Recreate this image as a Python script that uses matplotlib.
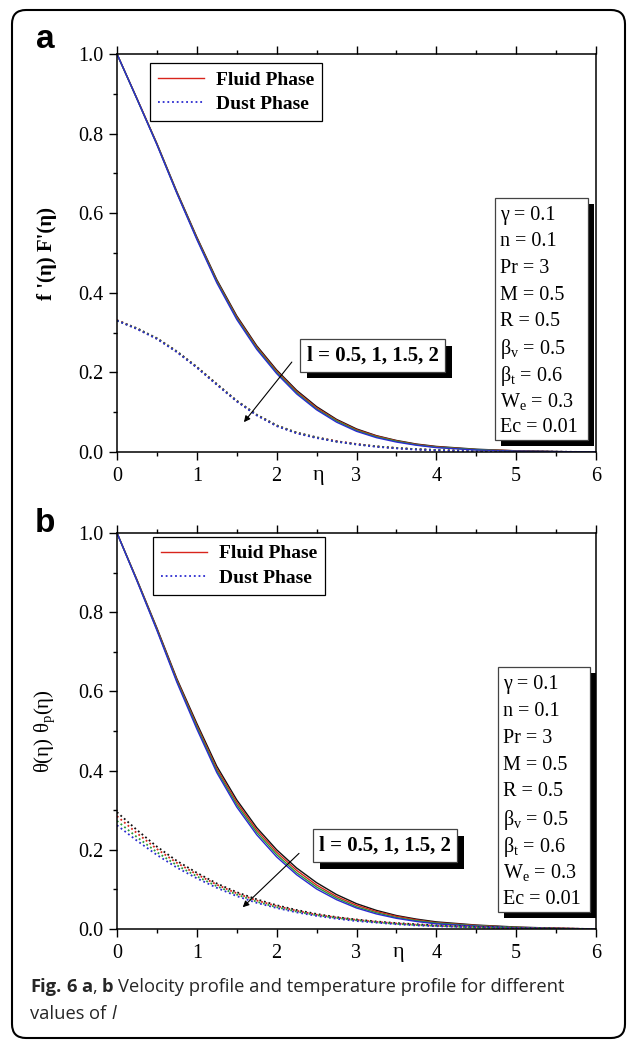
import numpy as np
import matplotlib.pyplot as plt
from matplotlib.lines import Line2D
from matplotlib.patches import FancyBboxPatch, Rectangle
from matplotlib.ticker import MultipleLocator
import matplotlib.patheffects as pe

plt.rcParams['font.family'] = 'Liberation Serif'
plt.rcParams['mathtext.fontset'] = 'custom'
plt.rcParams['mathtext.rm'] = 'Liberation Serif'
plt.rcParams['mathtext.it'] = 'Liberation Serif:italic'
plt.rcParams['mathtext.bf'] = 'Liberation Serif:bold'

# eta grid
eta = [0, 0.25, 0.5, 0.75, 1, 1.25, 1.5, 1.75, 2, 2.25, 2.5, 2.75, 3,
       3.25, 3.5, 3.75, 4, 4.5, 5, 5.5, 6]

l_values = ['0.5', '1', '1.5', '2']
colors = ['#111111', '#d8241c', '#2a9a36', '#2b2bd0']

# (a) velocity, fluid phase f'(eta) for l = 0.5, 1, 1.5, 2
vel_fluid_05 = [1, .888, .775, .654, .540, .433, .342, .267, .206, .155, .114, .082, .058, .041, .029, .020, .014, .007, .003, .001, 0]
vel_fluid_1 = [1, .888, .774, .652, .538, .430, .339, .264, .203, .152, .111, .080, .056, .040, .028, .019, .013, .006, .003, .001, 0]
vel_fluid_15 = [1, .887, .773, .651, .536, .428, .336, .261, .200, .149, .108, .078, .054, .038, .027, .018, .012, .006, .002, .001, 0]
vel_fluid_2 = [1, .887, .772, .650, .534, .425, .333, .258, .197, .146, .106, .075, .052, .036, .025, .017, .011, .005, .002, .001, 0]

# (a) velocity, dust phase F'(eta)
vel_dust_05 = [.331, .311, .286, .253, .214, .171, .129, .094, .067, .049, .037, .027, .020, .014, .010, .007, .005, .002, .001, .0005, 0]
vel_dust_1 = [.331, .310, .285, .252, .213, .170, .128, .093, .066, .048, .036, .027, .020, .014, .010, .007, .005, .002, .001, .0005, 0]
vel_dust_15 = [.330, .310, .285, .252, .213, .170, .128, .093, .066, .048, .036, .026, .019, .014, .010, .007, .005, .002, .001, .0005, 0]
vel_dust_2 = [.330, .309, .284, .251, .212, .169, .127, .092, .065, .047, .035, .026, .019, .013, .009, .006, .004, .002, .001, .0005, 0]

# (b) temperature, fluid phase theta(eta)
temp_fluid_05 = [1, .882, .760, .632, .519, .411, .326, .256, .200, .154, .117, .087, .064, .047, .034, .025, .018, .010, .005, .002, 0]
temp_fluid_1 = [1, .881, .758, .629, .514, .405, .320, .250, .194, .148, .111, .082, .060, .044, .032, .023, .016, .009, .004, .002, 0]
temp_fluid_15 = [1, .880, .756, .626, .510, .400, .314, .244, .188, .142, .106, .078, .056, .041, .029, .021, .015, .008, .004, .001, 0]
temp_fluid_2 = [1, .879, .754, .623, .505, .395, .308, .238, .182, .137, .101, .074, .053, .038, .027, .019, .013, .007, .003, .001, 0]

# (b) temperature, dust phase theta_p(eta)
temp_dust_05 = [.295, .250, .208, .172, .142, .115, .093, .075, .060, .048, .038, .030, .024, .019, .015, .012, .009, .005, .003, .001, 0]
temp_dust_1 = [.285, .242, .202, .167, .138, .112, .090, .072, .058, .046, .036, .029, .023, .018, .014, .011, .008, .005, .002, .001, 0]
temp_dust_15 = [.273, .232, .194, .161, .133, .108, .087, .069, .055, .044, .035, .028, .022, .017, .013, .010, .008, .004, .002, .001, 0]
temp_dust_2 = [.262, .223, .187, .155, .128, .104, .083, .066, .053, .042, .033, .026, .020, .016, .012, .009, .007, .004, .002, .001, 0]

params = ['γ = 0.1', 'n = 0.1', 'Pr = 3', 'M = 0.5', 'R = 0.5',
          r'β$_\mathregular{v}$ = 0.5', r'β$_\mathregular{t}$ = 0.6',
          r'W$_\mathregular{e}$ = 0.3', 'Ec = 0.01']

W, H = 637, 1048
fig = plt.figure(figsize=(W / 100, H / 100), dpi=100)

ax_a = fig.add_axes([117 / W, 1 - 452 / H, 479 / W, 398 / H])
ax_b = fig.add_axes([117 / W, 1 - 929 / H, 479 / W, 396 / H])


def draw_panel(ax, fluid, dust, ylabel, xlab_pos, legend_anchor,
               pbox, lbox_pos, arrow_from, arrow_to):
    for ys, c in zip(fluid, colors):
        ax.plot(eta, ys, color=c, lw=1.0, solid_capstyle='butt')
    for ys, c in zip(dust, colors):
        ax.plot(eta, ys, color=c, lw=1.3, linestyle=(0, (1, 1.6)))

    ax.set_xlim(0, 6)
    ax.set_ylim(0, 1)
    ax.xaxis.set_major_locator(MultipleLocator(1))
    ax.xaxis.set_minor_locator(MultipleLocator(0.5))
    ax.yaxis.set_major_locator(MultipleLocator(0.2))
    ax.yaxis.set_minor_locator(MultipleLocator(0.1))
    ax.yaxis.set_major_formatter(plt.FormatStrFormatter('%.1f'))
    ax.tick_params(which='both', direction='out', top=True, right=False,
                   labelsize=14.5, width=1.0)
    ax.tick_params(which='major', length=6)
    ax.tick_params(which='minor', length=3)
    ax.tick_params(axis='x', pad=5)
    ax.tick_params(axis='y', pad=4)
    for sp in ax.spines.values():
        sp.set_linewidth(1.1)

    ax.set_xlabel('η', fontsize=16)
    ax.xaxis.set_label_coords(xlab_pos, -0.035)
    ax.xaxis.label.set_va('top')
    ax.set_ylabel(ylabel, fontsize=15)
    ax.yaxis.set_label_coords(-0.125, 0.5)

    handles = [Line2D([], [], color=colors[1], lw=1.0),
               Line2D([], [], color=colors[3], lw=1.3, linestyle=(0, (1, 1.6)))]
    leg = ax.legend(handles, ['Fluid Phase', 'Dust Phase'], loc='upper left',
                    bbox_to_anchor=legend_anchor, borderaxespad=0,
                    fancybox=False, framealpha=1, edgecolor='k',
                    prop={'weight': 'bold', 'size': 14}, handlelength=2.4,
                    handletextpad=0.6, labelspacing=0.35, borderpad=0.4)
    leg.get_frame().set_linewidth(0.9)

    # parameter box (axes fraction: left, right, top, bottom), one text per line
    x0, x1, y0, y1 = pbox
    bh = ax.get_window_extent().height
    sh = 6 / bh
    shx = 6 / ax.get_window_extent().width
    ax.add_patch(Rectangle((x0 + shx, y1 - sh), x1 - x0, y0 - y1, transform=ax.transAxes,
                           fc='k', ec='none', zorder=5))
    ax.add_patch(Rectangle((x0, y1), x1 - x0, y0 - y1, transform=ax.transAxes,
                           fc='white', ec='#444444', lw=0.9, zorder=6))
    pitch = (y0 - y1 - 30 / bh) / (len(params) - 1)
    for i, s in enumerate(params):
        ax.text(x0 + 5 / ax.get_window_extent().width, y0 - 15 / bh - i * pitch, s,
                transform=ax.transAxes, ha='left', va='center_baseline',
                fontsize=14.5, zorder=7)

    lb = ax.text(lbox_pos[0], lbox_pos[1], 'l = 0.5, 1, 1.5, 2',
                 ha='center', va='center', fontsize=15, weight='bold', zorder=7,
                 bbox=dict(boxstyle='square,pad=0.3', fc='white', ec='#444444', lw=0.9))
    lb.get_bbox_patch().set_path_effects(
        [pe.withSimplePatchShadow(offset=(5, -5), shadow_rgbFace='k', alpha=1.0)])

    ax.annotate('', xy=arrow_to, xytext=arrow_from,
                arrowprops=dict(arrowstyle='-|>', color='k', lw=0.8,
                                mutation_scale=9, shrinkA=0, shrinkB=0))


def pbox_frac(left, right, top, bottom, ax_top, ax_bottom):
    return ((left - 117) / 479, (right - 117) / 479,
            (ax_bottom - top) / (ax_bottom - ax_top),
            (ax_bottom - bottom) / (ax_bottom - ax_top))


draw_panel(ax_a, [vel_fluid_05, vel_fluid_1, vel_fluid_15, vel_fluid_2],
           [vel_dust_05, vel_dust_1, vel_dust_15, vel_dust_2],
           "f '(η) F'(η)", 2.52 / 6, (0.069, 0.977),
           pbox_frac(495, 588, 198, 440, 54, 452),
           (3.2, 0.243), (2.19, 0.226), (1.59, 0.075))
ax_a.yaxis.label.set_weight('bold')

draw_panel(ax_b, [temp_fluid_05, temp_fluid_1, temp_fluid_15, temp_fluid_2],
           [temp_dust_05, temp_dust_1, temp_dust_15, temp_dust_2],
           r'θ(η) θ$_\mathregular{p}$(η)', 3.52 / 6, (0.075, 0.99),
           pbox_frac(498, 590, 667, 912, 533, 929),
           (3.36, 0.211), (2.28, 0.191), (1.575, 0.055))

# panel letters
fig.text(45 / W, 1 - 39 / H, 'a', fontfamily='Liberation Sans', weight='bold',
         fontsize=24, ha='center', va='center')
fig.text(45 / W, 1 - 523 / H, 'b', fontfamily='Liberation Sans', weight='bold',
         fontsize=24, ha='center', va='center')

# outer rounded frame
frame = FancyBboxPatch((12, 10), 613, 1028, boxstyle='round,pad=0,rounding_size=14',
                       transform=None, fill=False, ec='k', lw=1.5)
fig.patches.append(frame)

# caption built from pieces of different weight
renderer = fig.canvas.get_renderer()
cap_kw = dict(fontfamily='Open Sans', fontsize=13.2, color='#262626', va='baseline')


def text_width(s, **kw):
    t = fig.text(0, 0, s, **kw)
    w = t.get_window_extent(renderer).width
    t.remove()
    return w


space = text_width('x x', **cap_kw) - text_width('xx', **cap_kw)


def caption_line(pieces, x0, y0):
    x = x0
    for s, style in pieces:
        if s == ' ':
            x += space
            continue
        kw = dict(cap_kw)
        if style == 'b':
            kw['weight'] = 'bold'
        elif style == 'i':
            kw['style'] = 'italic'
        t = fig.text(x / W, 1 - y0 / H, s, **kw)
        x += t.get_window_extent(renderer).width


caption_line([('Fig.', 'b'), (' ', ''), ('6', 'b'), (' ', ''), ('a', 'b'), (',', ''),
              (' ', ''), ('b', 'b'), (' ', ''),
              ('Velocity profile and temperature profile for different', '')],
             30, 992)
caption_line([('values', ''), (' ', ''), ('of', ''), (' ', ''), ('l', 'i')], 30, 1019)

plt.savefig('out.png', dpi=100)
